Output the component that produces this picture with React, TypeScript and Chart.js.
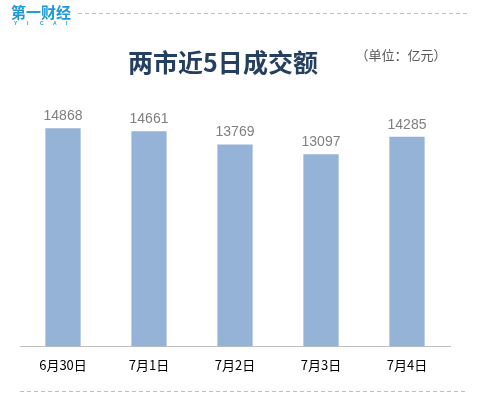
import React, { useEffect, useRef } from "react";
import { Chart, registerables } from "chart.js";

Chart.register(...registerables);

const categories = ["6月30日", "7月1日", "7月2日", "7月3日", "7月4日"];
const turnover = [14868, 14661, 13769, 13097, 14285];
const titleText = "两市近5日成交额";
const unitText = "（单位：亿元）";
const logoText = "第一财经";
const logoSub = "YICAI";

const CJK = '"Noto Sans CJK SC", "Liberation Sans", sans-serif';

const decorPlugin = {
  id: "decor",
  afterDraw(chart: any) {
    const ctx = chart.ctx as CanvasRenderingContext2D;
    ctx.save();
    // logo
    ctx.fillStyle = "#1E9AD6";
    ctx.font = `bold 15px ${CJK}`;
    ctx.textBaseline = "middle";
    ctx.textAlign = "left";
    ctx.fillText(logoText, 11, 12);
    ctx.font = `bold 5px "Liberation Sans", sans-serif`;
    const letters = logoSub.split("");
    letters.forEach((l, i) => {
      ctx.fillText(l, 14 + i * 13, 24);
    });
    // dashed lines
    ctx.strokeStyle = "#BFBFBF";
    ctx.lineWidth = 1;
    ctx.setLineDash([4, 3]);
    ctx.beginPath();
    ctx.moveTo(78, 13.5);
    ctx.lineTo(467, 13.5);
    ctx.moveTo(20, 391.5);
    ctx.lineTo(467, 391.5);
    ctx.stroke();
    ctx.setLineDash([]);
    // title
    ctx.fillStyle = "#243F60";
    ctx.font = `bold 25px ${CJK}`;
    ctx.textAlign = "center";
    ctx.textBaseline = "middle";
    ctx.fillText(titleText, 223, 62);
    // unit
    ctx.fillStyle = "#595959";
    ctx.font = `13px ${CJK}`;
    ctx.fillText(unitText, 401, 55);
    // value labels
    const meta = chart.getDatasetMeta(0);
    ctx.fillStyle = "#7F7F7F";
    ctx.font = `14px "Liberation Sans", sans-serif`;
    ctx.textBaseline = "bottom";
    meta.data.forEach((bar: any, i: number) => {
      ctx.fillText(String(turnover[i]), bar.x, bar.y - 5);
    });
    ctx.restore();
  },
};

export default function App() {
  const ref = useRef<HTMLCanvasElement>(null);
  useEffect(() => {
    if (!ref.current) return;
    const chart = new Chart(ref.current, {
      type: "bar",
      data: {
        labels: categories,
        datasets: [
          {
            data: turnover,
            backgroundColor: "#95B3D7",
            categoryPercentage: 1,
            barPercentage: 0.41,
          },
        ],
      },
      options: {
        animation: false,
        responsive: false,
        devicePixelRatio: 1,
        layout: { padding: { left: 20, right: 28, top: 53, bottom: 22 } },
        plugins: {
          legend: { display: false },
          tooltip: { enabled: false },
          title: { display: false },
        },
        scales: {
          x: {
            grid: { display: false },
            border: { display: true, color: "#BFBFBF", width: 1 },
            ticks: {
              padding: 3,
              color: "#000000",
              font: { size: 13, family: CJK },
            },
          },
          y: {
            display: false,
            min: 0,
            max: 20000,
          },
        },
      },
      plugins: [decorPlugin],
    });
    return () => chart.destroy();
  }, []);
  return (
    <div style={{ position: "fixed", left: 0, top: 0, width: 478, height: 398, background: "#fff" }}>
      <canvas ref={ref} width={478} height={398} />
    </div>
  );
}
